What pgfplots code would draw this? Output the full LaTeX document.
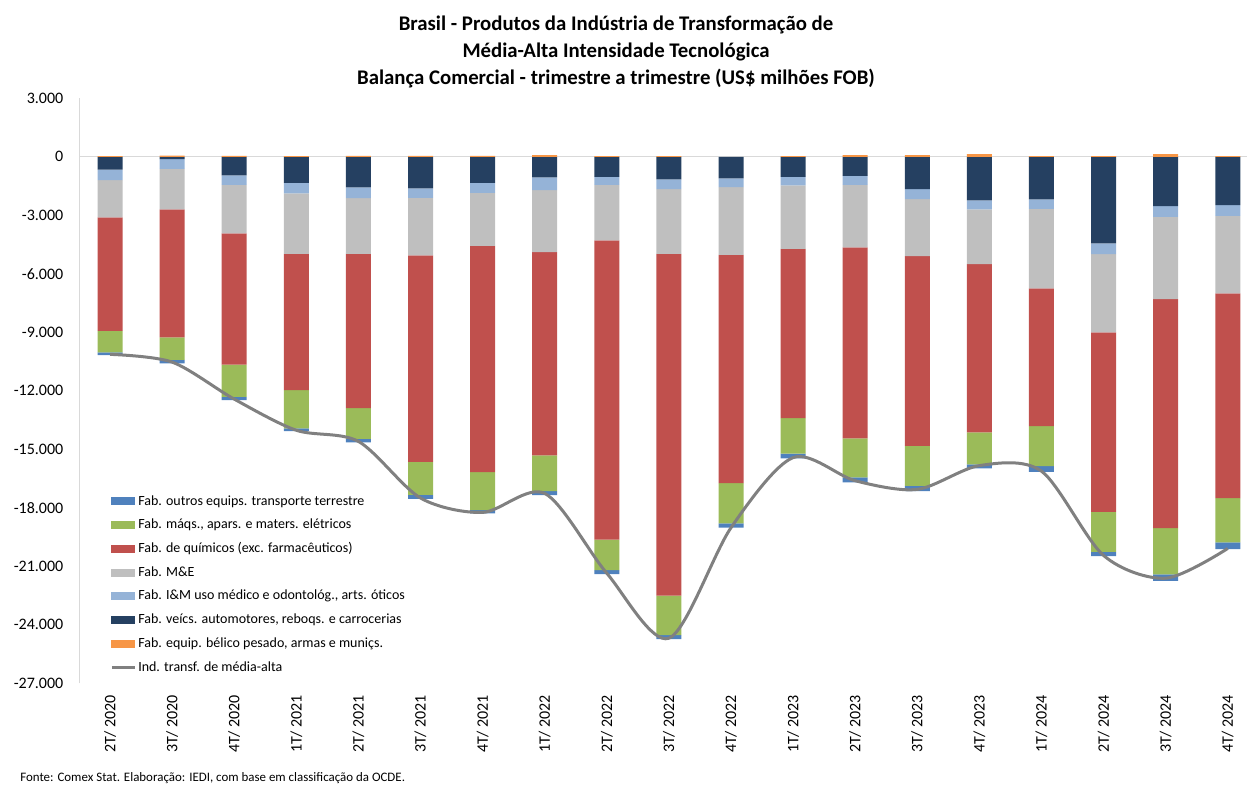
\documentclass[border=0pt]{standalone}
\usepackage{fontspec}
\setmainfont{Carlito}
\usepackage{pgfplots}
\usepackage{pgfplotstable}
\pgfplotsset{compat=1.18}

\definecolor{cNavy}{HTML}{254061}
\definecolor{cLBlue}{HTML}{95B3D7}
\definecolor{cGray}{HTML}{BFBFBF}
\definecolor{cRed}{HTML}{C0504D}
\definecolor{cGreen}{HTML}{9BBB59}
\definecolor{cBlue}{HTML}{4F81BD}
\definecolor{cOrange}{HTML}{F79646}
\definecolor{cLine}{HTML}{808080}
\definecolor{cAxis}{HTML}{D9D9D9}

\pgfplotstableread{
x bel vei iem me qui ele out tot
0 40 -650 -540 -1920 -5810 -1110 -140 -10130
1 60 -120 -497 -2080 -6560 -1160 -170 -10527
2 50 -955 -480 -2495 -6730 -1645 -170 -12425
3 40 -1333 -545 -3095 -6985 -1965 -140 -14023
4 50 -1570 -547 -2858 -7910 -1575 -185 -14595
5 50 -1622 -478 -2957 -10580 -1705 -205 -17497
6 50 -1333 -512 -2718 -11602 -1950 -170 -18235
7 85 -1060 -650 -3177 -10423 -1830 -205 -17260
8 40 -1025 -410 -2855 -15345 -1555 -205 -21355
9 40 -1160 -496 -3319 -17532 -2016 -205 -24688
10 0 -1110 -445 -3468 -11707 -2070 -220 -19020
11 40 -1025 -445 -3247 -8680 -1828 -240 -15425
12 85 -973 -462 -3213 -9792 -2000 -255 -16610
13 85 -1656 -513 -2922 -9726 -2051 -272 -17055
14 140 -2237 -460 -2804 -8629 -1640 -205 -15835
15 30 -2186 -479 -4085 -7057 -2050 -293 -16120
16 30 -4441 -547 -4015 -9202 -2050 -217 -20442
17 140 -2527 -549 -4219 -11741 -2374 -340 -21610
18 30 -2477 -548 -3979 -10496 -2270 -343 -20083
}\data

\pgfplotsset{
  common/.style={
    at={(59.25pt,76.25pt)}, anchor=south west,
    scale only axis, width=876pt, height=438.75pt,
    xmin=-0.5, xmax=18.31, ymin=-27000, ymax=3000,
  },
  barleg/.style={legend image code/.code={\fill[#1] (0pt,-2.6pt) rectangle (17.25pt,2.6pt);}},
}

\begin{document}
\begin{tikzpicture}
\useasboundingbox (0pt,0pt) rectangle (935.25pt,588.75pt);
\begin{axis}[
  common,
  ybar stacked, stack negative=separate, bar width=18.75pt,
  axis lines*=left, axis line style={-},
  x axis line style={draw=none},
  y axis line style={draw=cAxis, line width=0.75pt},
  tick style={draw=none},
  scaled y ticks=false,
  ytick={-27000,-24000,-21000,-18000,-15000,-12000,-9000,-6000,-3000,0,3000},
  yticklabels={-27.000,-24.000,-21.000,-18.000,-15.000,-12.000,-9.000,-6.000,-3.000,0,3.000},
  xtick={0,...,18},
  xticklabels={2T/ 2020,3T/ 2020,4T/ 2020,1T/ 2021,2T/ 2021,3T/ 2021,4T/ 2021,1T/ 2022,2T/ 2022,3T/ 2022,4T/ 2022,1T/ 2023,2T/ 2023,3T/ 2023,4T/ 2023,1T/ 2024,2T/ 2024,3T/ 2024,4T/ 2024},
  tick label style={font=\fontsize{12}{14}\selectfont, inner sep=0pt},
  yticklabel style={anchor=east, xshift=-11.6pt},
  xticklabel style={yshift=-8.8pt, rotate=90, anchor=east},
  extra y ticks={0}, extra y tick labels={},
  extra y tick style={grid=major, major grid style={draw=cAxis, line width=0.9pt}},
]
\addplot[fill=cOrange, draw=none] table[x=x,y=bel]{\data};
\addplot[fill=cNavy, draw=none] table[x=x,y=vei]{\data};
\addplot[fill=cLBlue, draw=none] table[x=x,y=iem]{\data};
\addplot[fill=cGray, draw=none] table[x=x,y=me]{\data};
\addplot[fill=cRed, draw=none] table[x=x,y=qui]{\data};
\addplot[fill=cGreen, draw=none] table[x=x,y=ele]{\data};
\addplot[fill=cBlue, draw=none] table[x=x,y=out]{\data};
\end{axis}
\begin{axis}[
  common, hide axis,
  legend style={draw=none, fill=none, at={(0.02654,0.3257)}, anchor=north west,
    inner sep=0pt, row sep=5.7pt, column sep=1pt,
    font=\fontsize{10.5}{12}\selectfont,
    nodes={inner sep=0.5pt, text height=8.5pt, text depth=2.6pt}},
  legend cell align=left,
]
\addlegendimage{barleg=cBlue}
\addlegendentry{Fab. outros equips. transporte terrestre}
\addlegendimage{barleg=cGreen}
\addlegendentry{Fab. máqs., apars. e maters. elétricos}
\addlegendimage{barleg=cRed}
\addlegendentry{Fab. de químicos (exc. farmacêuticos)}
\addlegendimage{barleg=cGray}
\addlegendentry{Fab. M\&E}
\addlegendimage{barleg=cLBlue}
\addlegendentry{Fab. I\&M uso médico e odontológ., arts. óticos}
\addlegendimage{barleg=cNavy}
\addlegendentry{Fab. veícs. automotores, reboqs. e carrocerias}
\addlegendimage{barleg=cOrange}
\addlegendentry{Fab. equip. bélico pesado, armas e muniçs.}
\addplot[color=cLine, line width=2.25pt, smooth, tension=0.5,
  legend image code/.code={\draw[cLine, line width=2.25pt] (0pt,0pt) -- (17.25pt,0pt);}]
  table[x=x,y=tot]{\data};
\addlegendentry{Ind. transf. de média-alta}
\end{axis}
\node[anchor=base, font=\bfseries\fontsize{15.6}{18}\selectfont] at (462pt,565.7pt) {Brasil - Produtos da Indústria de Transformação de};
\node[anchor=base, font=\bfseries\fontsize{15.6}{18}\selectfont] at (462pt,545.5pt) {Média-Alta Intensidade Tecnológica};
\node[anchor=base, font=\bfseries\fontsize{15.6}{18}\selectfont] at (462pt,525.2pt) {Balança Comercial - trimestre a trimestre (US\$ milhões FOB)};
\node[anchor=base west, inner sep=0pt, font=\fontsize{9.7}{11}\selectfont] at (15pt,2.6pt) {Fonte: Comex Stat. Elaboração: IEDI, com base em classificação da OCDE.};
\end{tikzpicture}
\end{document}
